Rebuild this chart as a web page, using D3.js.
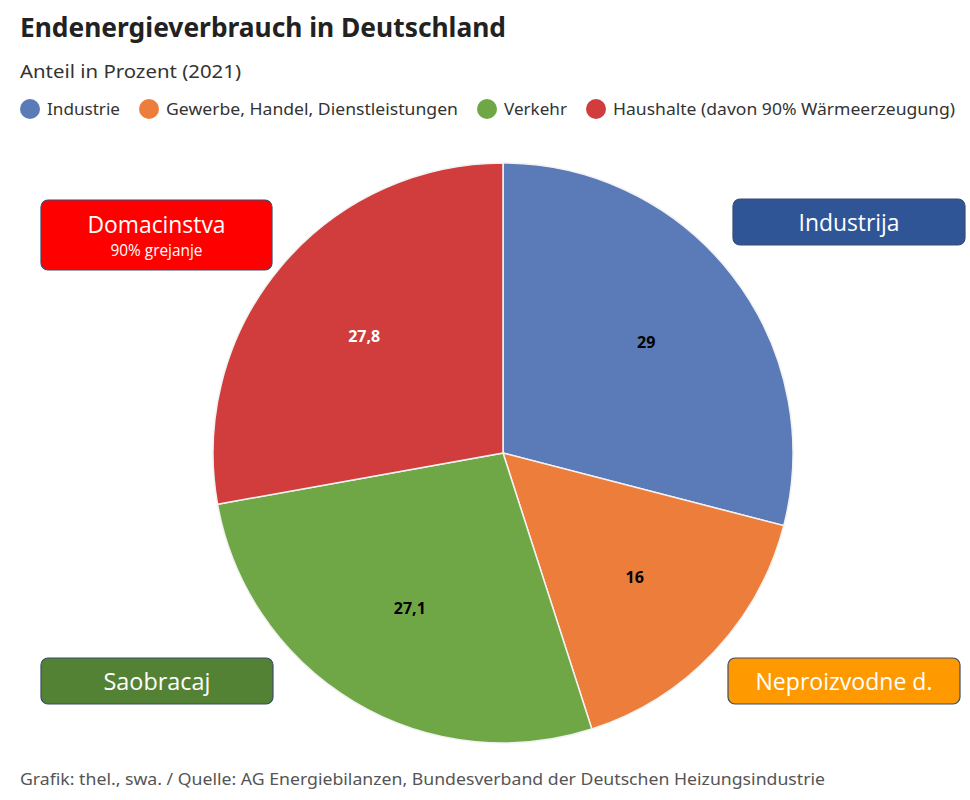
<!DOCTYPE html>
<html><head><meta charset="utf-8">
<script src="https://cdn.jsdelivr.net/npm/d3@7"></script>
<style>body{margin:0;background:#fff}svg{display:block}</style>
</head><body>
<svg id="c" width="970" height="800"></svg>
<script>
const categories = ["Industrie", "Gewerbe, Handel, Dienstleistungen", "Verkehr", "Haushalte (davon 90% Wärmeerzeugung)"];
const values = [29, 16, 27.1, 27.8];
const valueLabels = ["29", "16", "27,1", "27,8"];
const colors = ["#5A7BB8", "#ED7D3B", "#70A746", "#D13C3C"];
const labelColors = ["#000", "#000", "#000", "#fff"];
const boxLabels = [
  {text: "Industrija", sub: null, fill: "#2F5597"},
  {text: "Neproizvodne d.", sub: null, fill: "#FF9900"},
  {text: "Saobracaj", sub: null, fill: "#548235"},
  {text: "Domacinstva", sub: "90% grejanje", fill: "#FF0000"}
];
const title = "Endenergieverbrauch in Deutschland";
const subtitle = "Anteil in Prozent (2021)";
const footer = "Grafik: thel., swa. / Quelle: AG Energiebilanzen, Bundesverband der Deutschen Heizungsindustrie";

const svg = d3.select("#c");
const font = "'Noto Sans', sans-serif";

svg.append("text").attr("x", 20).attr("y", 37).attr("font-family", font).attr("font-weight", 700)
  .attr("font-size", 27).attr("fill", "#222").attr("textLength", 486).attr("lengthAdjust", "spacingAndGlyphs").text(title);
svg.append("text").attr("x", 20).attr("y", 78).attr("font-family", font)
  .attr("font-size", 18).attr("fill", "#333").attr("textLength", 221).attr("lengthAdjust", "spacingAndGlyphs").text(subtitle);

// legend
const legX = [30, 149, 487, 596];
const legW = [73, 292, 63, 342];
const leg = svg.append("g");
categories.forEach((c, i) => {
  leg.append("circle").attr("cx", legX[i]).attr("cy", 109).attr("r", 10).attr("fill", colors[i]);
  leg.append("text").attr("x", legX[i] + 17).attr("y", 115).attr("font-family", font).attr("font-size", 17)
    .attr("fill", "#333").attr("textLength", legW[i]).attr("lengthAdjust", "spacingAndGlyphs").text(c);
});

// pie
const cx = 503, cy = 453, R = 290;
const pie = d3.pie().sort(null).value(d => d);
const arcs = pie(values);
const arc = d3.arc().innerRadius(0).outerRadius(R);
const labelArc = d3.arc().innerRadius(181).outerRadius(181);
const g = svg.append("g").attr("transform", `translate(${cx},${cy})`);
g.selectAll("path").data(arcs).join("path").attr("d", arc).attr("fill", (d, i) => colors[i])
  .attr("stroke", "#f2f2f2").attr("stroke-width", 1.5);
g.selectAll("text").data(arcs).join("text")
  .attr("transform", d => `translate(${labelArc.centroid(d)})`)
  .attr("text-anchor", "middle").attr("dy", "0.35em")
  .attr("font-family", "'Open Sans', sans-serif").attr("font-weight", 700).attr("font-size", 16)
  .attr("fill", (d, i) => labelColors[i]).text((d, i) => valueLabels[i]);

// boxes
const boxPos = [
  {x: 733, y: 199, w: 232, h: 46},
  {x: 728, y: 658, w: 232, h: 46},
  {x: 41, y: 658, w: 232, h: 46},
  {x: 41, y: 200, w: 231, h: 70}
];
const boxTextW = [101, 177, 107, 138];
boxLabels.forEach((b, i) => {
  const p = boxPos[i];
  svg.append("rect").attr("x", p.x).attr("y", p.y).attr("width", p.w).attr("height", p.h)
    .attr("rx", 7).attr("fill", b.fill).attr("stroke", "#3A4B6E").attr("stroke-width", 1.2);
  const tx = p.x + p.w / 2;
  if (b.sub) {
    svg.append("text").attr("x", tx).attr("y", p.y + 33).attr("text-anchor", "middle")
      .attr("font-family", "'Open Sans', sans-serif").attr("font-size", 24).attr("fill", "#fff")
      .attr("textLength", boxTextW[i]).attr("lengthAdjust", "spacingAndGlyphs").text(b.text);
    svg.append("text").attr("x", tx).attr("y", p.y + 56).attr("text-anchor", "middle")
      .attr("font-family", "'Open Sans', sans-serif").attr("font-size", 16).attr("fill", "#fff")
      .attr("textLength", 92).attr("lengthAdjust", "spacingAndGlyphs").text(b.sub);
  } else {
    svg.append("text").attr("x", tx).attr("y", p.y + 32).attr("text-anchor", "middle")
      .attr("font-family", "'Open Sans', sans-serif").attr("font-size", 24).attr("fill", "#fff")
      .attr("textLength", boxTextW[i]).attr("lengthAdjust", "spacingAndGlyphs").text(b.text);
  }
});

svg.append("text").attr("x", 20).attr("y", 785).attr("font-family", font).attr("font-size", 16)
  .attr("fill", "#555").attr("textLength", 805).attr("lengthAdjust", "spacingAndGlyphs").text(footer);
</script>
</body></html>
